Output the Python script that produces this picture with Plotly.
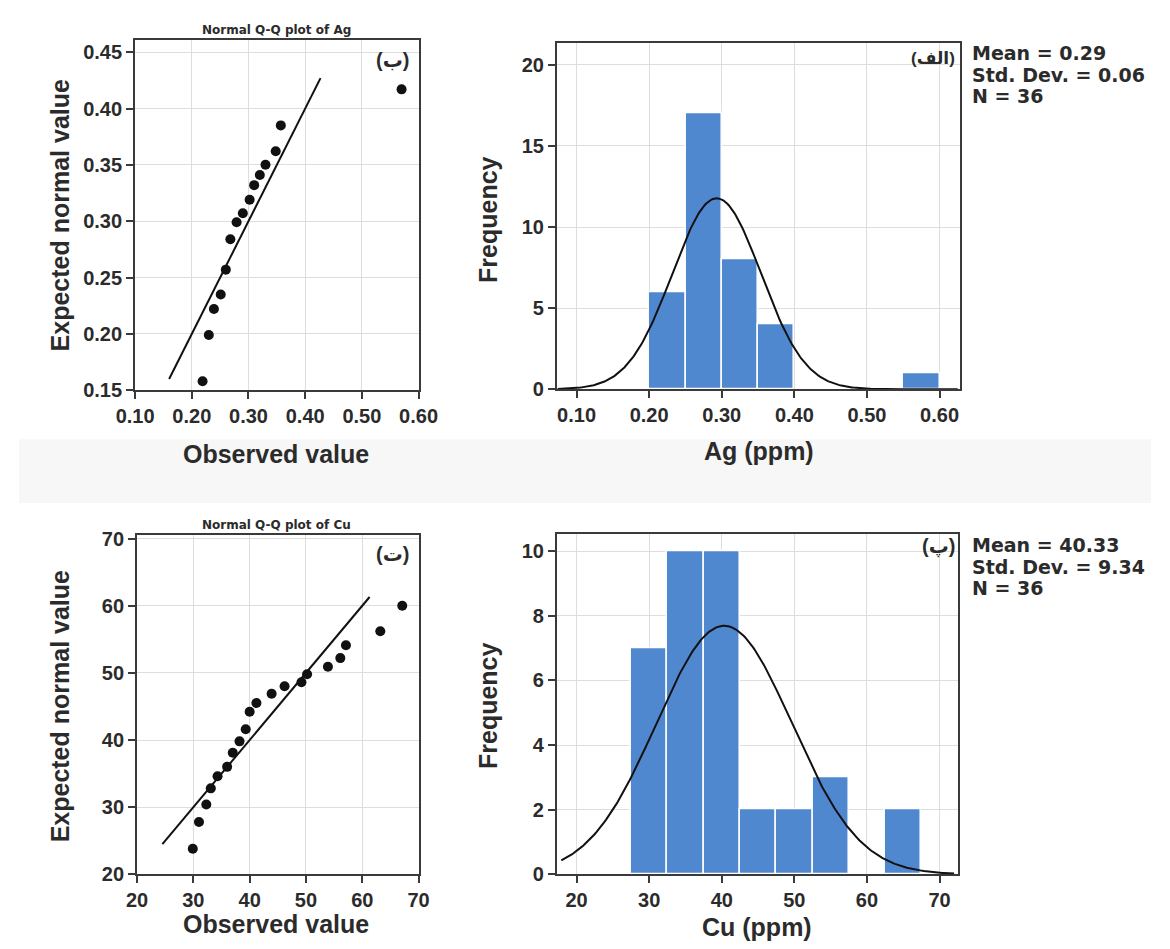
import numpy as np
import plotly.graph_objects as go

# ---------------- data ----------------
# Normal Q-Q plot of Ag (observed vs expected normal value)
ag_observed = [0.219, 0.230, 0.239, 0.251, 0.260, 0.268, 0.279, 0.290, 0.302,
               0.310, 0.320, 0.330, 0.348, 0.357, 0.570]
ag_expected = [0.158, 0.199, 0.222, 0.235, 0.257, 0.284, 0.299, 0.307, 0.319,
               0.332, 0.341, 0.350, 0.362, 0.385, 0.417]
ag_ref_line = [0.160, 0.427]

# Histogram of Ag (ppm)
ag_bin_left = [0.20, 0.25, 0.30, 0.35, 0.55]
ag_counts = [6, 17, 8, 4, 1]
ag_bin_width = 0.05
ag_mean, ag_sd, ag_n = 0.293, 0.061, 36
ag_stats = ["Mean = 0.29", "Std. Dev. = 0.06", "N = 36"]

# Normal Q-Q plot of Cu
cu_observed = [29.9, 31.0, 32.3, 33.1, 34.3, 36.0, 37.0, 38.2, 39.3, 40.0,
               41.2, 43.9, 46.2, 49.2, 50.2, 53.9, 56.1, 57.1, 63.2, 67.1]
cu_expected = [23.8, 27.8, 30.4, 32.8, 34.6, 36.0, 38.1, 39.8, 41.6, 44.2,
               45.5, 46.9, 48.0, 48.6, 49.8, 50.9, 52.2, 54.1, 56.2, 60.0]
cu_ref_line = [24.5, 61.3]

# Histogram of Cu (ppm)
cu_bin_left = [27.5, 32.5, 37.5, 42.5, 47.5, 52.5, 62.5]
cu_counts = [7, 10, 10, 2, 2, 3, 2]
cu_bin_width = 5.0
cu_mean, cu_sd, cu_n = 40.33, 9.34, 36
cu_stats = ["Mean = 40.33", "Std. Dev. = 9.34", "N = 36"]

# ---------------- styling ----------------
W, H = 1170, 949
FONT = "Liberation Sans, Arial, DejaVu Sans, sans-serif"
WIDE = "DejaVu Sans, Liberation Sans, sans-serif"
TXT = "#2b2b2b"
AXIS = "#3a3a3a"
GRID = "#dedede"
BAR = "#5088d0"
LRM = "\u200e"


def px_x(p):
    return p / W


def px_y(p):
    return 1 - p / H


def normal_curve(mean, sd, n, width, lo, hi):
    xs = np.linspace(lo, hi, 300)
    ys = n * width / (sd * np.sqrt(2 * np.pi)) * np.exp(-0.5 * ((xs - mean) / sd) ** 2)
    return xs, ys


fig = go.Figure()

# Q-Q Ag
fig.add_trace(go.Scatter(x=ag_ref_line, y=ag_ref_line, mode="lines",
                         line=dict(color="#111111", width=2), xaxis="x", yaxis="y"))
fig.add_trace(go.Scatter(x=ag_observed, y=ag_expected, mode="markers",
                         marker=dict(color="#111111", size=10), xaxis="x", yaxis="y"))

# Histogram Ag
fig.add_trace(go.Bar(x=[b + ag_bin_width / 2 for b in ag_bin_left], y=ag_counts,
                     width=ag_bin_width,
                     marker=dict(color=BAR, line=dict(color="white", width=1.5)),
                     xaxis="x2", yaxis="y2"))
cx, cy = normal_curve(ag_mean, ag_sd, ag_n, ag_bin_width, 0.074, 0.625)
fig.add_trace(go.Scatter(x=cx, y=cy, mode="lines", line=dict(color="#111111", width=2),
                         xaxis="x2", yaxis="y2"))

# Q-Q Cu
fig.add_trace(go.Scatter(x=cu_ref_line, y=cu_ref_line, mode="lines",
                         line=dict(color="#111111", width=2), xaxis="x3", yaxis="y3"))
fig.add_trace(go.Scatter(x=cu_observed, y=cu_expected, mode="markers",
                         marker=dict(color="#111111", size=10), xaxis="x3", yaxis="y3"))

# Histogram Cu
fig.add_trace(go.Bar(x=[b + cu_bin_width / 2 for b in cu_bin_left], y=cu_counts,
                     width=cu_bin_width,
                     marker=dict(color=BAR, line=dict(color="white", width=1.5)),
                     xaxis="x4", yaxis="y4"))
cx, cy = normal_curve(cu_mean, cu_sd, cu_n, cu_bin_width, 17.9, 72.0)
fig.add_trace(go.Scatter(x=cx, y=cy, mode="lines", line=dict(color="#111111", width=2),
                         xaxis="x4", yaxis="y4"))

axis_common = dict(showline=True, linecolor=AXIS, linewidth=2, mirror=True,
                   ticks="outside", ticklen=7, tickwidth=1.5, tickcolor=AXIS,
                   showgrid=True, gridcolor=GRID, gridwidth=1, zeroline=False,
                   tickfont=dict(family=FONT, size=20, color=TXT, weight="bold"),
                   fixedrange=True)

fig.update_layout(
    width=W, height=H, margin=dict(l=0, r=0, t=0, b=0),
    paper_bgcolor="white", plot_bgcolor="white", showlegend=False, bargap=0,
    xaxis=dict(axis_common, domain=[px_x(120), px_x(413)], range=[0.10, 0.60],
               tickvals=[0.1, 0.2, 0.3, 0.4, 0.5, 0.6], tickformat=".2f", anchor="y"),
    yaxis=dict(axis_common, domain=[px_y(390), px_y(33)], range=[0.15, 0.4605],
               tickvals=[0.15, 0.2, 0.25, 0.3, 0.35, 0.4, 0.45], tickformat=".2f", anchor="x"),
    xaxis2=dict(axis_common, domain=[px_x(556), px_x(973)], range=[0.073, 0.6287],
                tickvals=[0.1, 0.2, 0.3, 0.4, 0.5, 0.6], tickformat=".2f", anchor="y2"),
    yaxis2=dict(axis_common, domain=[px_y(389), px_y(36)], range=[0, 21.33],
                tickvals=[0, 5, 10, 15, 20], anchor="x2"),
    xaxis3=dict(axis_common, domain=[px_x(122), px_x(413)], range=[20, 70],
                tickvals=[20, 30, 40, 50, 60, 70], anchor="y3"),
    yaxis3=dict(axis_common, domain=[px_y(884), px_y(538)], range=[20, 70.5],
                tickvals=[20, 30, 40, 50, 60, 70], anchor="x3"),
    xaxis4=dict(axis_common, domain=[px_x(556), px_x(971)], range=[17.3, 72.6],
                tickvals=[20, 30, 40, 50, 60, 70], anchor="y4"),
    yaxis4=dict(axis_common, domain=[px_y(884), px_y(537)], range=[0, 10.52],
                tickvals=[0, 2, 4, 6, 8, 10], anchor="x4"),
)

# faint band separating the two rows
fig.add_shape(type="rect", xref="paper", yref="paper", x0=0, x1=1,
              y0=px_y(505), y1=px_y(440), fillcolor="#f7f7f7", line_width=0, layer="below")


def note(text, x, y, size, xanchor="center", yanchor="middle", angle=0, family=FONT):
    fig.add_annotation(text=text, xref="paper", yref="paper", x=px_x(x), y=px_y(y),
                       xanchor=xanchor, yanchor=yanchor, showarrow=False, textangle=angle,
                       borderpad=0,
                       font=dict(family=family, size=size, color=TXT, weight="bold"))


# subplot titles
note("Normal Q-Q plot of Ag", 266, 22, 12, family=WIDE)
note("Normal Q-Q plot of Cu", 266, 528, 12, family=WIDE)

# axis titles
note("Expected normal value", 42, 212, 25, angle=-90)
note("Observed value", 266, 455, 25)
note("Frequency", 484, 216, 25, angle=-90)
note("Ag (ppm)", 765, 452, 25)
note("Expected normal value", 42, 713, 25, angle=-90)
note("Observed value", 266, 935, 25)
note("Frequency", 484, 712, 25, angle=-90)
note("Cu (ppm)", 763, 938, 25)

# panel letters
note(LRM + "(ب)" + LRM, 404, 53, 20, xanchor="right")
note(LRM + "(الف)" + LRM, 968, 52, 17, xanchor="right")
note(LRM + "(ت)" + LRM, 404, 557, 20, xanchor="right")
note(LRM + "(پ)" + LRM, 968, 549, 20, xanchor="right")

# descriptive statistics
for i, s in enumerate(ag_stats):
    note(s, 984, 46 + 22 * i, 19, xanchor="left", family=WIDE)
for i, s in enumerate(cu_stats):
    note(s, 984, 548 + 22 * i, 19, xanchor="left", family=WIDE)

fig.write_html("out.html")
